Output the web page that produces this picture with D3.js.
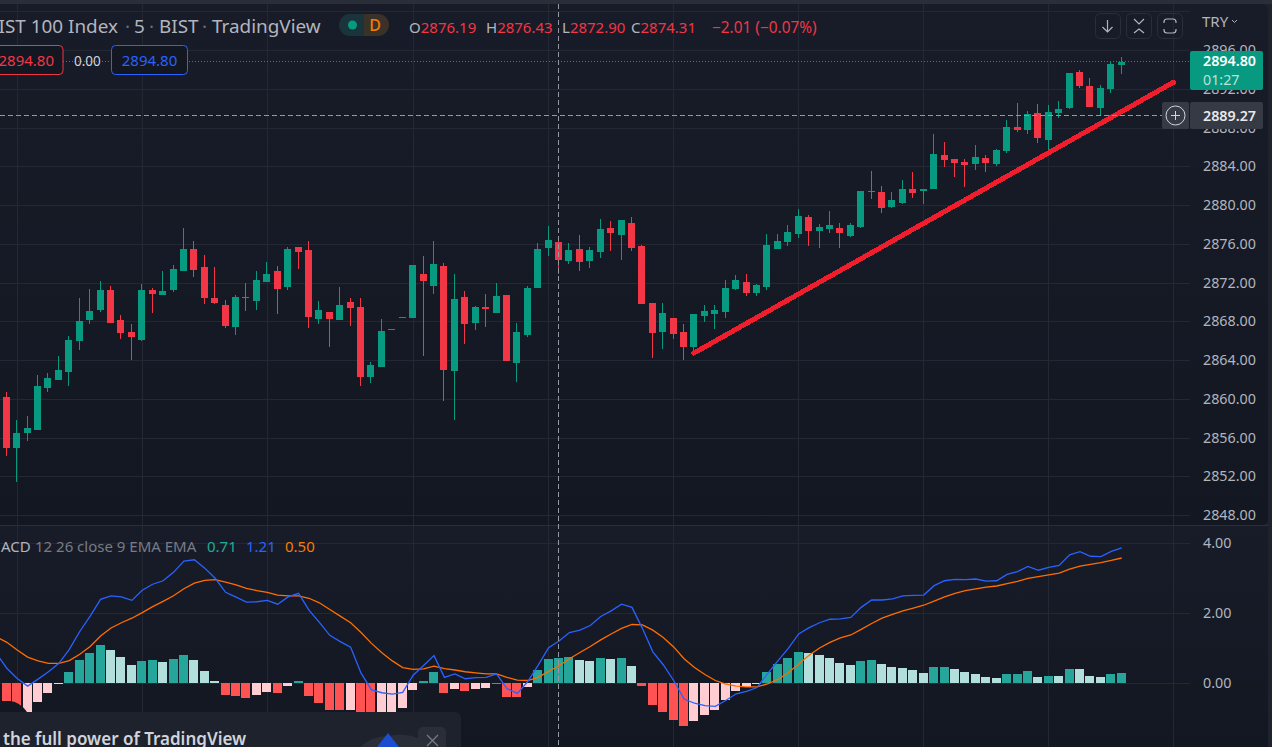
<!DOCTYPE html>
<html>
<head>
<meta charset="utf-8">
<title>BIST 100 Index</title>
<script src="https://cdn.jsdelivr.net/npm/d3@7"></script>
<style>
html, body { margin: 0; padding: 0; background: #131722; overflow: hidden; }
svg { display: block; font-family: "Noto Sans", sans-serif; }
</style>
</head>
<body>
<script>
const opens = [2860.15,2854.89,2856.44,2856.75,2861.08,2861.91,2862.74,2865.94,2868.11,2869.14,2871.21,2868.11,2866.87,2866.04,2871.21,2870.69,2871.21,2873.17,2875.44,2873.58,2870.38,2869.66,2867.39,2870.49,2870.07,2872.04,2873.17,2871.52,
  2875.65,2875.34,2868.21,2868.93,2868.11,2869.97,2869.45,2862.22,2863.25,2867.11,2868.35,2868.31,2872.86,2871.62,2873.68,2862.84,2870.48,2867.80,2869.45,2868.83,2870.69,2863.66,2866.56,2871.41,2875.54,2876.19,2874.20,2875.44,
  2874.21,2875.14,2877.61,2876.89,2878.13,2875.75,2869.87,2866.87,2868.32,2866.87,2865.32,2868.52,2868.73,2868.94,2871.31,2872.04,2870.90,2871.52,2875.44,2876.17,2876.99,2878.75,2877.30,2877.51,
  2877.61,2876.78,2877.71,2881.43,2881.33,2879.78,2880.19,2881.64,2881.43,2881.64,2885.15,2884.74,2884.43,2884.22,2884.84,2884.22,2885.56,2888.04,2887.73,2889.49,2886.70,2889.49,2890.01,2893.72,2892.28,2890.01,2891.97,2894.45];
const highs = [2860.67,2857.78,2858.19,2862.43,2862.63,2864.39,2866.46,2870.38,2871.31,2872.14,2871.62,2868.63,2867.70,2871.83,2871.42,2873.17,2873.79,2877.61,2876.27,2874.82,2873.58,2870.18,2870.69,2871.93,2873.17,2874.10,2873.69,2875.65,
  2875.65,2876.27,2870.07,2868.93,2871.52,2870.38,2870.38,2863.77,2868.21,2867.18,2868.42,2873.79,2874.72,2876.27,2873.99,2872.86,2871.10,2869.55,2870.79,2871.93,2870.69,2867.80,2871.62,2876.06,2877.82,2876.43,2876.06,2876.89,
  2875.65,2878.54,2878.34,2878.44,2878.75,2875.86,2869.87,2869.87,2868.32,2867.70,2868.73,2869.66,2869.66,2872.24,2872.76,2872.86,2871.83,2876.99,2876.99,2877.92,2879.58,2878.96,2878.03,2879.37,
  2878.13,2878.13,2881.43,2883.50,2881.95,2881.33,2882.57,2883.39,2881.64,2887.32,2886.49,2884.74,2884.74,2886.18,2885.15,2885.77,2888.77,2890.52,2889.70,2890.42,2890.32,2890.73,2893.62,2893.93,2893.10,2892.38,2894.76,2895.27];
const lows = [2854.06,2851.37,2855.61,2856.75,2860.67,2861.91,2861.29,2865.01,2867.70,2868.94,2867.80,2866.15,2863.98,2865.94,2868.83,2870.69,2871.00,2873.17,2872.55,2869.76,2869.76,2867.28,2866.56,2869.04,2869.14,2872.04,2868.73,2871.21,
  2873.37,2867.28,2867.69,2865.32,2868.11,2867.49,2861.29,2861.60,2863.25,2867.11,2868.35,2868.31,2864.39,2870.79,2859.74,2857.78,2865.63,2867.07,2867.38,2868.83,2863.87,2861.70,2866.35,2871.41,2874.72,2872.90,2873.89,2873.17,
  2873.48,2874.52,2875.24,2874.31,2875.24,2869.76,2864.18,2865.11,2866.15,2863.98,2864.67,2867.90,2867.18,2868.32,2871.21,2870.59,2870.59,2871.21,2875.44,2875.75,2876.58,2875.75,2875.55,2877.10,
  2875.54,2876.68,2877.61,2880.60,2879.16,2879.67,2880.09,2880.71,2880.09,2881.64,2883.91,2882.88,2881.84,2883.60,2883.39,2884.01,2885.36,2887.53,2887.32,2886.39,2885.56,2888.97,2889.90,2892.07,2890.11,2889.28,2891.55,2893.52];
const closes = [2854.89,2856.44,2856.95,2861.29,2862.12,2862.94,2866.04,2868.01,2869.04,2871.21,2867.80,2866.77,2866.35,2871.21,2870.80,2871.11,2873.38,2875.44,2873.27,2870.38,2869.87,2867.49,2870.49,2870.38,2872.24,2872.86,2871.31,2875.44,
  2875.13,2868.42,2869.14,2868.21,2869.66,2869.35,2862.22,2863.46,2866.97,2867.18,2868.42,2873.79,2872.14,2873.89,2862.94,2870.28,2867.69,2869.45,2869.24,2870.59,2863.87,2866.87,2871.41,2875.44,2876.37,2874.31,2875.34,2874.10,
  2875.34,2877.51,2877.10,2878.44,2875.55,2869.76,2866.77,2868.83,2866.66,2865.32,2868.73,2869.04,2869.14,2871.42,2872.24,2870.90,2871.73,2875.86,2876.27,2877.20,2878.85,2877.30,2877.72,2877.92,
  2877.09,2877.92,2881.43,2881.33,2879.67,2880.50,2881.64,2881.22,2881.64,2885.25,2884.63,2884.32,2884.12,2884.94,2884.32,2885.67,2888.04,2887.73,2889.39,2886.91,2889.59,2889.90,2893.62,2892.28,2890.11,2892.07,2894.55,2894.80];

const macdHist = [-0.80,-0.90,-0.85,-0.53,-0.28,-0.02,0.32,0.67,0.87,1.10,0.95,0.75,0.52,0.64,0.67,0.61,0.70,0.81,0.67,0.35,0.07,-0.33,-0.36,-0.42,-0.33,-0.25,-0.28,-0.08,0.07,-0.36,-0.56,-0.76,-0.77,-0.76,-0.82,-0.90,-0.89,-0.85,-0.70,-0.19,0.07,
  0.32,-0.28,-0.16,-0.22,-0.16,-0.13,0.01,-0.39,-0.40,-0.10,0.38,0.70,0.72,0.75,0.67,0.64,0.72,0.70,0.72,0.50,-0.08,-0.62,-0.82,-1.05,-1.22,-1.08,-0.90,-0.76,-0.48,-0.22,-0.10,-0.03,0.32,0.55,0.72,0.90,0.87,0.81,0.72,0.58,0.52,
  0.64,0.67,0.55,0.47,0.44,0.38,0.30,0.47,0.48,0.41,0.32,0.27,0.18,0.15,0.27,0.28,0.35,0.18,0.21,0.20,0.41,0.40,0.21,0.18,0.27,0.30];
const macdLine = [0.43,0.14,-0.08,0.12,0.33,0.57,0.97,1.48,1.92,2.40,2.50,2.47,2.37,2.66,2.83,2.93,3.17,3.49,3.53,3.29,3.00,2.60,2.46,2.32,2.33,2.37,2.26,2.47,2.57,2.09,1.74,1.37,1.19,1.03,0.29,-0.19,-0.27,-0.31,-0.26,0.23,0.51,
  0.79,0.17,0.27,0.13,0.16,0.17,0.27,-0.15,-0.29,0.05,0.52,1.02,1.21,1.45,1.52,1.65,1.91,2.07,2.26,2.17,1.57,0.90,0.53,0.08,-0.45,-0.57,-0.64,-0.66,-0.49,-0.30,-0.23,-0.12,0.27,0.64,1.00,1.41,1.59,1.73,1.83,1.84,1.88,
  2.17,2.38,2.38,2.41,2.50,2.51,2.52,2.79,2.93,2.97,2.96,2.98,2.92,2.93,3.11,3.19,3.34,3.23,3.31,3.37,3.67,3.76,3.63,3.62,3.77,3.87];
const signalLine = [1.17,0.95,0.75,0.64,0.57,0.57,0.65,0.83,1.05,1.35,1.58,1.73,1.86,2.02,2.19,2.34,2.50,2.70,2.86,2.94,2.96,2.89,2.81,2.71,2.65,2.60,2.52,2.50,2.50,2.43,2.30,2.11,1.92,1.73,1.45,1.14,0.87,0.64,0.45,0.40,0.41,
  0.49,0.42,0.38,0.33,0.30,0.27,0.27,0.17,0.09,0.08,0.17,0.34,0.50,0.70,0.88,1.05,1.24,1.41,1.57,1.68,1.67,1.52,1.31,1.04,0.70,0.45,0.25,0.08,-0.02,-0.08,-0.10,-0.10,-0.02,0.11,0.30,0.55,0.80,1.01,1.17,1.30,1.38,
  1.54,1.71,1.86,1.97,2.07,2.15,2.23,2.35,2.47,2.57,2.65,2.70,2.75,2.78,2.85,2.91,3.00,3.05,3.10,3.15,3.26,3.35,3.40,3.45,3.51,3.58];
// values of the bar just off the left edge
const macdBefore = 0.85;
const signalBefore = 1.33;

const priceTicks = [2848,2852,2856,2860,2864,2868,2872,2876,2880,2884,2888,2892,2896];
const priceGrid = priceTicks.concat([2900]);
const macdTicks = [0,2,4];
const timeGrid = [1,13,25,39,52,64,76,88,100,112];

const trendIdx = [66,112];
const trendPrice = [2864.72,2892.66];
const lastPrice = 2894.80;
const crossIdx = 53;
const crossPrice = 2889.27;

const width = 1272, height = 747;
const chartRight = 1190, paneTop = 4, paneSplit = 525;

const x = d3.scaleLinear().domain([0,112]).range([6.3,1173.3]);
const y = d3.scaleLinear().domain([2848,2896]).range([515,50]);
const ym = d3.scaleLinear().domain([0,4]).range([683.3,543.3]);

const GREEN = "#089981", RED = "#f23645", TEXT = "#b2b5be", GRID = "#242833";

const svg = d3.select("body").append("svg")
  .attr("width", width)
  .attr("height", height);

const defs = svg.append("defs");
const grad = defs.append("linearGradient").attr("id", "paneBg").attr("x1", 0).attr("y1", 0).attr("x2", 0).attr("y2", 1);
grad.append("stop").attr("offset", "0%").attr("stop-color", "#181c28");
grad.append("stop").attr("offset", "100%").attr("stop-color", "#131722");

// panes
svg.append("rect").attr("width", width).attr("height", height).attr("fill", "#1e222d");
svg.append("rect").attr("x", -8).attr("y", paneTop).attr("width", width - 4 + 8).attr("height", paneSplit - paneTop).attr("rx", 5).attr("fill", "url(#paneBg)");
svg.append("rect").attr("x", 0).attr("y", paneSplit + 1).attr("width", width - 4).attr("height", height - paneSplit).attr("fill", "url(#paneBg)");
svg.append("rect").attr("x", 0).attr("y", 0).attr("width", width).attr("height", paneTop).attr("fill", "#2a2e39");

// grid
const gridX = svg.append("g")
  .attr("transform", `translate(0,${height})`)
  .call(d3.axisBottom(x).tickValues(timeGrid).tickSize(-(height - paneTop)).tickFormat(""));
const gridY = svg.append("g")
  .call(d3.axisRight(y).tickValues(priceGrid).tickSize(chartRight).tickFormat(""));
const gridM = svg.append("g")
  .call(d3.axisRight(ym).tickValues(macdTicks).tickSize(chartRight).tickFormat(""));
[gridX, gridY, gridM].forEach(g => {
  g.select(".domain").remove();
  g.selectAll("line").attr("stroke", GRID).attr("shape-rendering", "crispEdges");
});

svg.append("line").attr("x1", 0).attr("x2", width - 4).attr("y1", paneSplit + 0.5).attr("y2", paneSplit + 0.5)
  .attr("stroke", "#2a2e39");

// last price dotted line
svg.append("line").attr("x1", 0).attr("x2", chartRight).attr("y1", Math.floor(y(lastPrice)) + 0.5).attr("y2", Math.floor(y(lastPrice)) + 0.5)
  .attr("stroke", GREEN).attr("stroke-dasharray", "1,2");

// candles
const idx = d3.range(closes.length);
const candle = svg.append("g").selectAll("g").data(idx).enter().append("g")
  .attr("fill", i => closes[i] >= opens[i] ? GREEN : RED)
  .attr("shape-rendering", "crispEdges");
candle.append("rect")
  .attr("x", i => Math.floor(x(i)))
  .attr("y", i => y(highs[i]))
  .attr("width", 1)
  .attr("height", i => y(lows[i]) - y(highs[i]));
candle.append("rect")
  .attr("x", i => Math.floor(x(i)) - 3)
  .attr("y", i => y(Math.max(opens[i], closes[i])))
  .attr("width", 7)
  .attr("height", i => Math.max(1, Math.abs(y(opens[i]) - y(closes[i]))));

// MACD histogram
const histColor = i => {
  const v = macdHist[i], prev = i > 0 ? macdHist[i - 1] : -0.7;
  if (v >= 0) return v > prev ? "#26a69a" : "#b2dfdb";
  return v < prev ? "#ff5252" : "#ffcdd2";
};
svg.append("g").selectAll("rect").data(idx).enter().append("rect")
  .attr("x", i => Math.floor(x(i)) - 4)
  .attr("y", i => Math.min(ym(0), ym(macdHist[i])))
  .attr("width", 9)
  .attr("height", i => Math.max(1, Math.abs(ym(macdHist[i]) - ym(0))))
  .attr("fill", histColor)
  .attr("shape-rendering", "crispEdges");

const lineIdx = [-1].concat(idx);
const macdPath = d3.line().x(i => x(i) + 0.5);
svg.append("path").datum(lineIdx)
  .attr("d", macdPath.y(i => ym(i < 0 ? signalBefore : signalLine[i])))
  .attr("fill", "none").attr("stroke", "#ff6d00").attr("stroke-width", 1.3);
svg.append("path").datum(lineIdx)
  .attr("d", macdPath.y(i => ym(i < 0 ? macdBefore : macdLine[i])))
  .attr("fill", "none").attr("stroke", "#2962ff").attr("stroke-width", 1.3);

// hand drawn trend line
svg.append("line")
  .attr("x1", x(trendIdx[0])).attr("y1", y(trendPrice[0]))
  .attr("x2", x(trendIdx[1])).attr("y2", y(trendPrice[1]))
  .attr("stroke", "#f01e2c").attr("stroke-width", 5).attr("stroke-linecap", "round")
  .attr("shape-rendering", "crispEdges");

// crosshair
svg.append("line").attr("x1", Math.floor(x(crossIdx)) + 0.5).attr("x2", Math.floor(x(crossIdx)) + 0.5).attr("y1", paneTop).attr("y2", height)
  .attr("stroke", "#9598a1").attr("stroke-dasharray", "5,3");
svg.append("line").attr("x1", 0).attr("x2", chartRight - 27).attr("y1", Math.round(y(crossPrice)) + 0.5).attr("y2", Math.round(y(crossPrice)) + 0.5)
  .attr("stroke", "#9598a1").attr("stroke-dasharray", "5,3");

// price axes
const axisP = svg.append("g").attr("transform", "translate(1203,0)")
  .call(d3.axisRight(y).tickValues(priceTicks).tickSize(0).tickPadding(0).tickFormat(d3.format(".2f")));
const axisM = svg.append("g").attr("transform", "translate(1203,0)")
  .call(d3.axisRight(ym).tickValues(macdTicks).tickSize(0).tickPadding(0).tickFormat(d3.format(".2f")));
[axisP, axisM].forEach(g => {
  g.select(".domain").remove();
  g.selectAll("text").attr("fill", TEXT).style("font-size", "14.3px").style("font-family", "'Noto Sans', sans-serif");
});

// last price tag
svg.append("rect").attr("x", 1190).attr("y", 51).attr("width", 73).attr("height", 39).attr("rx", 2).attr("fill", GREEN);
svg.append("text").attr("x", 1203).attr("y", 66).attr("fill", "#fff").attr("font-size", 14.3).attr("font-weight", 600).text(d3.format(".2f")(lastPrice));
svg.append("text").attr("x", 1203).attr("y", 85).attr("fill", "#b9e3da").attr("font-size", 14.3).text("01:27");

// crosshair tag + plus button
svg.append("rect").attr("x", 1162).attr("y", 102).attr("width", 27).attr("height", 27).attr("rx", 2).attr("fill", "#363a45");
svg.append("circle").attr("cx", 1175.5).attr("cy", 115.5).attr("r", 9.5).attr("fill", "none").attr("stroke", "#d1d4dc").attr("stroke-width", 1);
svg.append("path").attr("d", "M1171 115.5h9M1175.5 111v9").attr("stroke", "#d1d4dc").attr("fill", "none");
svg.append("rect").attr("x", 1190).attr("y", 102).attr("width", 73).attr("height", 27).attr("rx", 2).attr("fill", "#363a45");
svg.append("text").attr("x", 1203).attr("y", 120.5).attr("fill", "#e8e9ec").attr("font-size", 14.3).attr("font-weight", 600).text(d3.format(".2f")(crossPrice));

// legend: title
const titleParts = [["BIST 100 Index", 118, "end", TEXT], ["·", 125, "start", "#6a6d78"], ["5", 134, "start", TEXT], ["·", 149, "start", "#6a6d78"],
  ["BIST", 159, "start", TEXT], ["·", 202, "start", "#6a6d78"], ["TradingView", 212, "start", TEXT]];
titleParts.forEach(d => {
  svg.append("text").attr("x", d[1]).attr("y", 33).attr("text-anchor", d[2])
    .attr("fill", d[3]).attr("font-size", 18.9).text(d[0]);
});

// D badge
svg.append("path").attr("d", "M364 14h-14a11 11 0 0 0 0 22h14z").attr("fill", "#19343a");
svg.append("path").attr("d", "M364 14h14a11 11 0 0 1 0 22h-14z").attr("fill", "#3a3128");
svg.append("circle").attr("cx", 352.5).attr("cy", 25).attr("r", 4.5).attr("fill", GREEN);
svg.append("text").attr("x", 375).attr("y", 31).attr("text-anchor", "middle").attr("fill", "#f57c00").attr("font-size", 16).attr("font-weight", 500).text("D");

// OHLC
const ohlc = [["O", 2876.19, 409], ["H", 2876.43, 486], ["L", 2872.90, 562], ["C", 2874.31, 631]];
ohlc.forEach(d => {
  const t = svg.append("text").attr("x", d[2]).attr("y", 32.5).attr("font-size", 15).attr("fill", RED);
  t.append("tspan").attr("fill", TEXT).text(d[0]);
  t.append("tspan").text(d3.format(".2f")(d[1]));
});
svg.append("text").attr("x", 712).attr("y", 32.5).attr("font-size", 15.4).attr("fill", RED).text("−2.01 (−0.07%)");

// buy/sell boxes
svg.append("rect").attr("x", -10).attr("y", 45.5).attr("width", 73).attr("height", 29).attr("rx", 4).attr("fill", "#131722").attr("stroke", RED);
svg.append("text").attr("x", 54).attr("y", 66).attr("text-anchor", "end").attr("fill", RED).attr("font-size", 15).text("2894.80");
svg.append("text").attr("x", 74).attr("y", 65.5).attr("fill", "#d1d4dc").attr("font-size", 13.5).text("0.00");
svg.append("rect").attr("x", 111.5).attr("y", 45.5).attr("width", 76).attr("height", 29).attr("rx", 4).attr("fill", "#131722").attr("stroke", "#2962ff");
svg.append("text").attr("x", 149.5).attr("y", 66).attr("text-anchor", "middle").attr("fill", "#2962ff").attr("font-size", 15).text("2894.80");

// top right buttons
[1095.5, 1126.5, 1157.5].forEach(bx => {
  svg.append("rect").attr("x", bx).attr("y", 13.5).attr("width", 25).attr("height", 25).attr("rx", 5)
    .attr("fill", "none").attr("stroke", "#2a2e39");
});
const icon = svg.append("g").attr("fill", "none").attr("stroke", "#b2b5be").attr("stroke-width", 1.2);
icon.append("path").attr("d", "M1107.5 20v12M1102.5 27l5 5 5-5");
icon.append("path").attr("d", "M1134 19l5 5 5-5M1134 33l5-4 5 4");
icon.append("path").attr("d", "M1164 23v-1a3 3 0 0 1 3-3h6a3 3 0 0 1 3 3v1M1164 29v1a3 3 0 0 0 3 3h6a3 3 0 0 0 3-3v-1");
svg.append("text").attr("x", 1202).attr("y", 27).attr("fill", TEXT).attr("font-size", 15).text("TRY");
svg.append("path").attr("d", "M1232 20l2.5 2.5 2.5-2.5").attr("fill", "none").attr("stroke", TEXT);

// MACD legend
const macdLegend = svg.append("text").attr("y", 551.5).attr("font-size", 15);
macdLegend.append("tspan").attr("x", 1).attr("fill", TEXT).text("ACD");
macdLegend.append("tspan").attr("x", 35).attr("fill", "#787b86").text("12 26 close 9 EMA EMA");
macdLegend.append("tspan").attr("x", 207).attr("fill", "#22ab94").text("0.71");
macdLegend.append("tspan").attr("x", 246).attr("fill", "#2962ff").text("1.21");
macdLegend.append("tspan").attr("x", 285).attr("fill", "#f57c00").text("0.50");

// promo popup
svg.append("path").attr("d", "M0 712V701H10Q20 702 27 712z").attr("fill", "#131722");
svg.append("path").attr("d", "M0 712H455a6 6 0 0 1 6 6V747H0z").attr("fill", "#1e222d");
svg.append("path").attr("d", "M360 747Q372 736 388 736Q400 733 412 736Q424 740 428 747z").attr("fill", "#2a2e39");
svg.append("path").attr("d", "M388 733l11 14h-22z").attr("fill", "#1b4dd1");
svg.append("rect").attr("x", 418).attr("y", 727).attr("width", 28).attr("height", 26).attr("rx", 5).attr("fill", "#2a2e39");
svg.append("path").attr("d", "M427 735l11 11M438 735l-11 11").attr("stroke", "#787b86").attr("stroke-width", 1.3);
svg.append("text").attr("x", 3).attr("y", 745).attr("fill", "#d1d4dc").attr("font-size", 17).attr("font-weight", 600).text("the full power of TradingView");
</script>
</body>
</html>
